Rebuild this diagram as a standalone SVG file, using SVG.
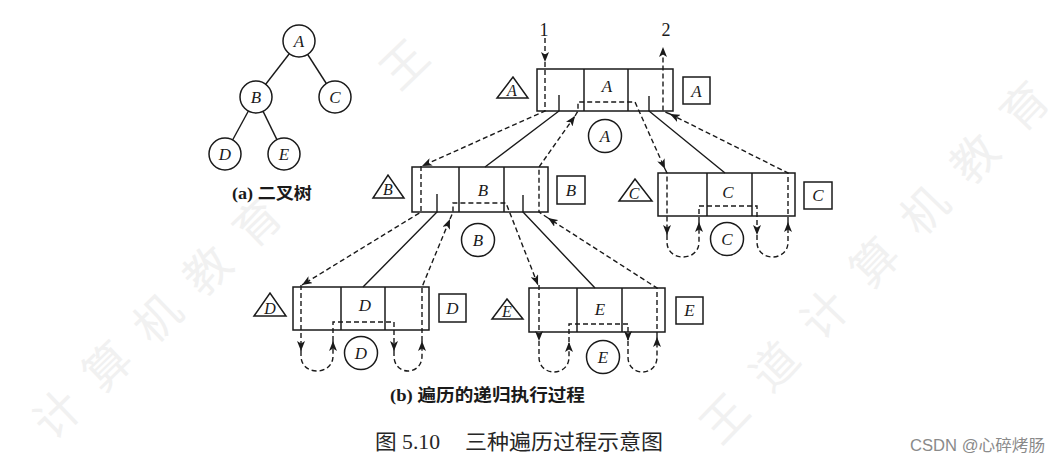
<svg xmlns="http://www.w3.org/2000/svg" width="1060" height="466" viewBox="0 0 1060 466">
<style>
.wm{font-family:"Noto Sans CJK SC",sans-serif;font-size:46px;fill:#f1f1f1;text-anchor:middle;dominant-baseline:central}
.ln{fill:none;stroke:#1a1a1a;stroke-width:1.4}
.bx{fill:none;stroke:#1a1a1a;stroke-width:1.5}
.ds{fill:none;stroke:#1a1a1a;stroke-width:1.4;stroke-dasharray:5 3}
.lt{font-family:"Liberation Serif",serif;font-style:italic;font-size:17px;fill:#1a1a1a;text-anchor:middle}
.lts{font-family:"Liberation Serif",serif;font-style:italic;font-size:16px;fill:#1a1a1a;text-anchor:middle}
.num{font-family:"Liberation Serif",serif;font-size:18px;fill:#1a1a1a;text-anchor:middle}
.cap{font-family:"Liberation Serif","Noto Sans CJK SC",serif;font-weight:bold;fill:#1a1a1a}
.fig{font-family:"Liberation Serif","Noto Sans CJK SC",serif;font-size:21px;fill:#262626}
.csdn{font-family:"Liberation Sans","Noto Sans CJK SC",sans-serif;font-size:16px;fill:#8a8a8a}
</style>
<defs>
<marker id="ah" markerUnits="userSpaceOnUse" markerWidth="10" markerHeight="8" viewBox="0 0 10 8" refX="10" refY="4" orient="auto"><path d="M0,0 L10,4 L0,8 L2.5,4 z" fill="#1a1a1a"/></marker>
</defs>
<rect width="1060" height="466" fill="#ffffff"/>
<g id="watermark">
<text class="wm" transform="translate(55,412) rotate(-44)">计</text>
<text class="wm" transform="translate(105,364) rotate(-44)">算</text>
<text class="wm" transform="translate(155,316) rotate(-44)">机</text>
<text class="wm" transform="translate(205,268) rotate(-44)">教</text>
<text class="wm" transform="translate(255,220) rotate(-44)">育</text>
<text class="wm" transform="translate(722,416) rotate(-46)">王</text>
<text class="wm" transform="translate(772,364) rotate(-46)">道</text>
<text class="wm" transform="translate(822,312) rotate(-46)">计</text>
<text class="wm" transform="translate(872,260) rotate(-46)">算</text>
<text class="wm" transform="translate(922,208) rotate(-46)">机</text>
<text class="wm" transform="translate(972,156) rotate(-46)">教</text>
<text class="wm" transform="translate(1022,104) rotate(-46)">育</text>
<text class="wm" transform="translate(402,62) rotate(-44)">王</text>
</g>
<g id="tree-edges">
<line class="ln" x1="289.3" y1="53.7" x2="265.7" y2="84.3"/>
<line class="ln" x1="307.7" y1="54.5" x2="326.3" y2="83.5"/>
<line class="ln" x1="248.4" y1="111" x2="232.6" y2="140"/>
<line class="ln" x1="263.1" y1="111.4" x2="276.9" y2="139.6"/>
</g>
<g id="tA"><circle class="bx" cx="299" cy="41" r="16"/><text class="lt" x="299" y="47">A</text></g>
<g id="tB"><circle class="bx" cx="256" cy="97" r="16"/><text class="lt" x="256" y="103">B</text></g>
<g id="tC"><circle class="bx" cx="335" cy="97" r="16"/><text class="lt" x="335" y="103">C</text></g>
<g id="tD"><circle class="bx" cx="225" cy="154" r="16"/><text class="lt" x="225" y="160">D</text></g>
<g id="tE"><circle class="bx" cx="284" cy="154" r="16"/><text class="lt" x="284" y="160">E</text></g>
<text class="cap" x="232" y="199" font-size="16" textLength="80" lengthAdjust="spacingAndGlyphs">(a) 二叉树</text>

<g id="nodeA">
<rect class="bx" x="537" y="69" width="136" height="42"/>
<line class="bx" x1="584" y1="69" x2="584" y2="111"/><line class="bx" x1="628" y1="69" x2="628" y2="111"/>
<text class="lt" x="607" y="92">A</text>
<polygon class="bx" points="497,98 528,98 513,77"/><text class="lts" x="512" y="96">A</text>
<rect class="bx" x="683" y="77" width="27" height="27"/><text class="lt" x="696.5" y="97">A</text>
<circle class="bx" cx="605" cy="136" r="16.5"/><text class="lt" x="605" y="142">A</text>
</g>
<g id="nodeB">
<rect class="bx" x="412" y="167" width="136" height="45"/>
<line class="bx" x1="459" y1="167" x2="459" y2="212"/><line class="bx" x1="504" y1="167" x2="504" y2="212"/>
<text class="lt" x="483" y="196">B</text>
<polygon class="bx" points="373,198 404,198 388,175"/><text class="lts" x="388" y="195">B</text>
<rect class="bx" x="557" y="176" width="28" height="28"/><text class="lt" x="571" y="196">B</text>
<circle class="bx" cx="478" cy="240" r="16.5"/><text class="lt" x="478" y="246">B</text>
</g>
<g id="nodeC">
<rect class="bx" x="658" y="173" width="137" height="43"/>
<line class="bx" x1="707" y1="173" x2="707" y2="216"/><line class="bx" x1="752" y1="173" x2="752" y2="216"/>
<text class="lt" x="728" y="198">C</text>
<polygon class="bx" points="619,201 652,201 635,179"/><text class="lts" x="634" y="199">C</text>
<rect class="bx" x="804" y="182" width="28" height="27"/><text class="lt" x="818" y="201">C</text>
<circle class="bx" cx="727" cy="239" r="16.5"/><text class="lt" x="727" y="245">C</text>
</g>
<g id="nodeD">
<rect class="bx" x="293" y="287" width="136" height="43"/>
<line class="bx" x1="341" y1="287" x2="341" y2="330"/><line class="bx" x1="385" y1="287" x2="385" y2="330"/>
<text class="lt" x="365" y="311">D</text>
<polygon class="bx" points="254,316 286,316 270,293"/><text class="lts" x="270" y="314">D</text>
<rect class="bx" x="439" y="294" width="27" height="28"/><text class="lt" x="452.5" y="314">D</text>
<circle class="bx" cx="361" cy="353" r="16.5"/><text class="lt" x="361" y="359">D</text>
</g>
<g id="nodeE">
<rect class="bx" x="529" y="288" width="136" height="44"/>
<line class="bx" x1="577" y1="288" x2="577" y2="332"/><line class="bx" x1="622" y1="288" x2="622" y2="332"/>
<text class="lt" x="600" y="315">E</text>
<polygon class="bx" points="492,319 523,319 507,299"/><text class="lts" x="507" y="317">E</text>
<rect class="bx" x="676" y="297" width="27" height="27"/><text class="lt" x="689.5" y="316">E</text>
<circle class="bx" cx="603" cy="357" r="16.5"/><text class="lt" x="603" y="363">E</text>
</g>

<g id="connectors">
<path class="ln" d="M559,95 L559,111 L485,167"/>
<path class="ln" d="M649,96 L649,111 L725,173"/>
<path class="ln" d="M437,194 L437,212 L363,287"/>
<path class="ln" d="M523,195 L523,212 L595,288"/>
<path class="ds" d="M545,38 L545,62" marker-end="url(#ah)"/>
<path class="ds" d="M545,62 L545,111 L422,166" marker-end="url(#ah)"/>
<path class="ds" d="M421,166 L421,212 L302,285" marker-end="url(#ah)"/>
<path class="ds" d="M301,285 L301,351" marker-end="url(#ah)"/>
<path class="ds" d="M301,351 L301,356 C301,376 333,376 333,356 L333,341" marker-end="url(#ah)"/>
<path class="ds" d="M333,341 L333,322 L394,322 L394,351" marker-end="url(#ah)"/>
<path class="ds" d="M394,351 L394,356 C394,376 422,376 422,356 L422,341" marker-end="url(#ah)"/>
<path class="ds" d="M422,341 L422,287 L450,219" marker-end="url(#ah)"/>
<path class="ds" d="M450,219 L453,212 L453,203 L506,203 L538,285" marker-end="url(#ah)"/>
<path class="ds" d="M539,285 L539,341" marker-end="url(#ah)"/>
<path class="ds" d="M539,341 L539,357 C539,377 569,377 569,357 L569,342" marker-end="url(#ah)"/>
<path class="ds" d="M569,342 L569,324 L628,324 L628,341" marker-end="url(#ah)"/>
<path class="ds" d="M628,341 L628,357 C628,377 657,377 657,357 L657,337" marker-end="url(#ah)"/>
<path class="ds" d="M657,337 L657,288 L548,218" marker-end="url(#ah)"/>
<path class="ds" d="M548,218 L539,212 L539,167 L575,116" marker-end="url(#ah)"/>
<path class="ds" d="M575,116 L578,111 L578,102 L635,102 L665,169" marker-end="url(#ah)"/>
<path class="ds" d="M665,169 L667,173 L667,235" marker-end="url(#ah)"/>
<path class="ds" d="M667,235 L667,242 C667,262 699,262 699,242 L699,222" marker-end="url(#ah)"/>
<path class="ds" d="M699,222 L699,206 L757,206 L757,235" marker-end="url(#ah)"/>
<path class="ds" d="M757,235 L757,242 C757,262 788,262 788,242 L788,222" marker-end="url(#ah)"/>
<path class="ds" d="M788,222 L788,173 L670,114" marker-end="url(#ah)"/>
<path class="ds" d="M670,114 L663,111 L663,47" marker-end="url(#ah)"/>
</g>
<text class="num" x="544" y="36">1</text>
<text class="num" x="666" y="36">2</text>

<text class="cap" x="390" y="401" font-size="17" textLength="195" lengthAdjust="spacingAndGlyphs">(b) 遍历的递归执行过程</text>
<text class="fig" x="375" y="449" textLength="65" lengthAdjust="spacingAndGlyphs">图 5.10</text>
<text class="fig" x="465" y="449" textLength="198" lengthAdjust="spacingAndGlyphs">三种遍历过程示意图</text>
<text class="csdn" x="910" y="451" textLength="135" lengthAdjust="spacingAndGlyphs">CSDN @心碎烤肠</text>
</svg>
